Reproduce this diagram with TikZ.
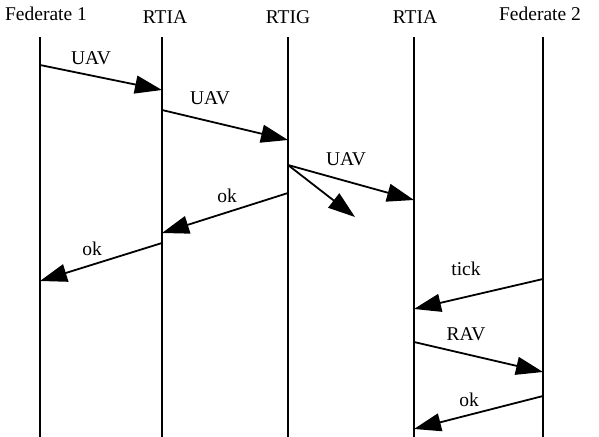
\documentclass[tikz,border=0pt]{standalone}
\usepackage{fontspec}
\setmainfont{Liberation Serif}
\usetikzlibrary{arrows.meta}
\begin{document}
\begin{tikzpicture}[x=1pt,y=-1pt,
  lifeline/.style={line width=1.8pt},
  msg/.style={line width=1.8pt,-{Triangle[length=27pt,width=18pt]}},
  head/.style={font=\fontsize{19.5}{21}\selectfont,inner sep=0pt},
  lbl/.style={font=\fontsize{19.5}{21}\selectfont,inner sep=0pt}]
\useasboundingbox (0,0) rectangle (599,436);
% participants
\node[head] (h1) at (46,14) {Federate 1};
\node[head] (h2) at (165,17) {RTIA};
\node[head] (h3) at (288,17) {RTIG};
\node[head] (h4) at (415,17) {RTIA};
\node[head] (h5) at (540,14) {Federate 2};
% lifelines
\foreach \i/\x in {1/40,2/162,3/288,4/414,5/543}{
  \coordinate (t\i) at (\x,37);
  \coordinate (b\i) at (\x,437);
  \draw[lifeline] (t\i) -- (b\i);
}
% message end points
\coordinate (a1) at (40,65);   \coordinate (a2) at (162,90);
\coordinate (c1) at (162,110); \coordinate (c2) at (288,140);
\coordinate (d1) at (288,165); \coordinate (d2) at (414,200);
\coordinate (e2) at (355,217);
\coordinate (f1) at (288,193); \coordinate (f2) at (162,233);
\coordinate (g1) at (162,243); \coordinate (g2) at (40,281);
\coordinate (k1) at (543,279); \coordinate (k2) at (414,309);
\coordinate (m1) at (414,342); \coordinate (m2) at (543,372);
\coordinate (n1) at (543,396); \coordinate (n2) at (414,429);
% messages
\draw[msg] (a1) -- (a2);
\draw[msg] (c1) -- (c2);
\draw[msg] (d1) -- (d2);
\draw[msg] (d1) -- (e2);
\draw[msg] (f1) -- (f2);
\draw[msg] (g1) -- (g2);
\draw[msg] (k1) -- (k2);
\draw[msg] (m1) -- (m2);
\draw[msg] (n1) -- (n2);
% labels
\node[lbl] (l1) at (91,58) {UAV};
\node[lbl] (l2) at (210,98) {UAV};
\node[lbl] (l3) at (346,159) {UAV};
\node[lbl] (l4) at (227,196) {ok};
\node[lbl] (l5) at (92,249) {ok};
\node[lbl] (l6) at (466,269) {tick};
\node[lbl] (l7) at (466,334) {RAV};
\node[lbl] (l8) at (469,400) {ok};
\end{tikzpicture}
\end{document}
